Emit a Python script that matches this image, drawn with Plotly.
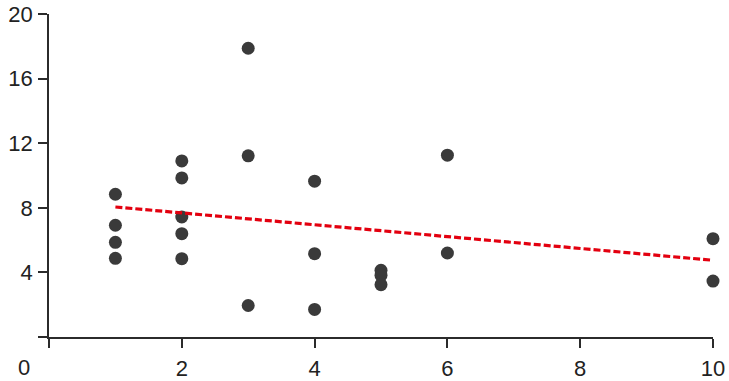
import plotly.graph_objects as go

# data
x_vals = [1, 1, 1, 1,
          2, 2, 2, 2, 2,
          3, 3, 3,
          4, 4, 4,
          5, 5, 5,
          6, 6,
          10, 10]
y_vals = [8.84, 6.92, 5.86, 4.87,
          10.9, 9.85, 7.43, 6.4, 4.85,
          17.88, 11.22, 1.95,
          9.65, 5.16, 1.71,
          4.13, 3.82, 3.24,
          11.26, 5.2,
          6.09, 3.46]
trend_x = [1, 10]
trend_y = [8.05, 4.75]

x_ticks = [0, 2, 4, 6, 8, 10]
x_tick_text = ["", "2", "4", "6", "8", "10"]
y_ticks = [0, 4, 8, 12, 16, 20]
y_tick_text = ["", "4", "8", "12", "16", "20"]
origin_label = "0"

AX = "#2b2b2b"
FONT = dict(family="Liberation Sans, Arial, sans-serif", size=22, color="#222222")

fig = go.Figure()
fig.add_trace(go.Scatter(
    x=x_vals, y=y_vals, mode="markers",
    marker=dict(size=13, color="#3a3a3a", line=dict(width=0)),
    cliponaxis=False, showlegend=False,
))
fig.add_trace(go.Scatter(
    x=trend_x, y=trend_y, mode="lines",
    line=dict(color="#e3000f", width=3.2, dash="7px,3px"),
    cliponaxis=False, showlegend=False,
))

fig.update_layout(
    width=729, height=381,
    margin=dict(l=49, r=16, t=14, b=44, autoexpand=False),
    paper_bgcolor="white", plot_bgcolor="white",
    font=FONT,
    xaxis=dict(range=[0, 10], tickvals=x_ticks, ticktext=x_tick_text,
               showgrid=False, zeroline=False, showline=True, automargin=False,
               linecolor=AX, linewidth=1.5, ticks="outside",
               ticklen=9, tickwidth=1.5, tickcolor=AX,
               ticklabelstandoff=2, tickfont=FONT),
    yaxis=dict(range=[0, 20], tickvals=y_ticks, ticktext=y_tick_text,
               showgrid=False, zeroline=False, showline=True, automargin=False,
               linecolor=AX, linewidth=1.5, ticks="outside",
               ticklen=9, tickwidth=1.5, tickcolor=AX,
               ticklabelstandoff=1, tickfont=FONT),
    annotations=[dict(text=origin_label, x=0, y=0, xref="x", yref="y",
                      xanchor="right", yanchor="top", xshift=-17, yshift=-16,
                      showarrow=False, font=FONT)],
)

fig.write_html(
    "out.html",
    config={"displayModeBar": False},
    post_script="document.body.style.margin='0';document.body.style.overflow='hidden';",
)
